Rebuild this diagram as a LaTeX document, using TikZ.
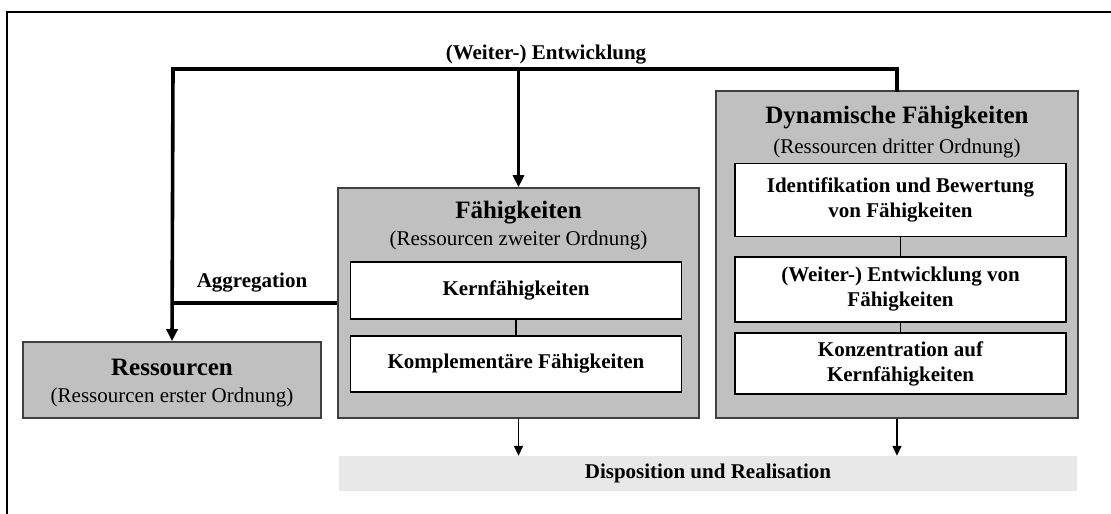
\documentclass[tikz,border=0pt]{standalone}
\usepackage{fontspec}
\setmainfont{Liberation Serif}
\usetikzlibrary{arrows.meta}

\definecolor{boxgray}{HTML}{C0C0C0}
\definecolor{bargray}{HTML}{E8E8E8}
\definecolor{edgegray}{HTML}{404040}

\tikzset{
  outerbox/.style={draw=edgegray, line width=1.6pt, fill=boxgray, inner sep=0pt},
  innerbox/.style={draw=black, line width=1.4pt, fill=white, inner sep=0pt,
    align=center, font=\fontsize{21}{25}\selectfont\bfseries},
  titletext/.style={inner sep=0pt, font=\fontsize{25}{30}\selectfont\bfseries},
  subtext/.style={inner sep=0pt, font=\fontsize{21}{25}\selectfont},
  labeltext/.style={inner sep=0pt, font=\fontsize{21}{25}\selectfont\bfseries},
  thickline/.style={line width=3.6pt, line cap=rect},
  thickarrow/.style={line width=3.6pt, -{Triangle[length=12pt,width=11pt]}},
  thinline/.style={line width=1.5pt},
  thinarrow/.style={line width=1.5pt, -{Triangle[length=10pt,width=9pt]}},
}

\begin{document}
\begin{tikzpicture}[x=1pt, y=-1pt]
  \useasboundingbox (0,0) rectangle (1111,514);

  % frame
  \draw[line width=2pt] (7,530) -- (7,12) -- (1130,12);

  % first-order resources
  \node[outerbox, minimum width=298pt, minimum height=76pt] (res) at (172,380) {};
  \node[titletext] (res-t) at (172,367) {Ressourcen};
  \node[subtext] (res-s) at (172,397) {(Ressourcen erster Ordnung)};

  % capabilities
  \node[outerbox, minimum width=361pt, minimum height=230pt] (fae) at (518.5,303) {};
  \node[titletext] (fae-t) at (518.5,213) {Fähigkeiten};
  \node[subtext] (fae-s) at (518.5,240) {(Ressourcen zweiter Ordnung)};
  \node[innerbox, minimum width=331pt, minimum height=57pt] (kern) at (516,290.5) {Kernfähigkeiten};
  \node[innerbox, minimum width=331pt, minimum height=56pt] (komp) at (516,364) {Komplementäre Fähigkeiten};
  \draw[thinline] (kern.south) -- (komp.north);

  % dynamic capabilities
  \node[outerbox, minimum width=362pt, minimum height=327pt] (dyn) at (897,254.5) {};
  \node[titletext] (dyn-t) at (897,118) {Dynamische Fähigkeiten};
  \node[subtext] (dyn-s) at (897,148) {(Ressourcen dritter Ordnung)};
  \node[innerbox, minimum width=331pt, minimum height=73pt] (ident) at (900.5,200)
    {Identifikation und Bewertung\\von Fähigkeiten};
  \node[innerbox, minimum width=331pt, minimum height=65pt] (weit) at (900.5,289.5)
    {(Weiter-) Entwicklung von\\Fähigkeiten};
  \node[innerbox, minimum width=331pt, minimum height=61pt] (konz) at (900.5,363.5)
    {Konzentration auf\\Kernfähigkeiten};
  \draw[thinline] (ident.south) -- (weit.north);
  \draw[thinline] (weit.south) -- (konz.north);

  % disposition bar
  \node[fill=bargray, inner sep=0pt, minimum width=738pt, minimum height=35pt,
    font=\fontsize{21}{25}\selectfont\bfseries] (disp) at (708,473.5)
    {Disposition und Realisation};

  % development loop
  \coordinate (cornerR) at (897,69);
  \coordinate (cornerL) at (173,69);
  \coordinate (branch) at (518.5,69);
  \node[labeltext] (dev) at (546,55) {(Weiter-) Entwicklung};
  \draw[thickline] (dyn.north) -- (cornerR) -- (cornerL);
  \draw[thickarrow] (cornerL) -- (res.north);
  \draw[thickarrow] (branch) -- (fae.north);

  % aggregation
  \coordinate (aggL) at (173,303);
  \node[labeltext] (agg) at (252,283) {Aggregation};
  \draw[thickline, line cap=butt] (fae.west) -- (aggL);

  % outputs
  \draw[thinarrow] (fae.south) -- (fae.south |- disp.north);
  \draw[thinarrow] (dyn.south) -- (dyn.south |- disp.north);
\end{tikzpicture}
\end{document}
